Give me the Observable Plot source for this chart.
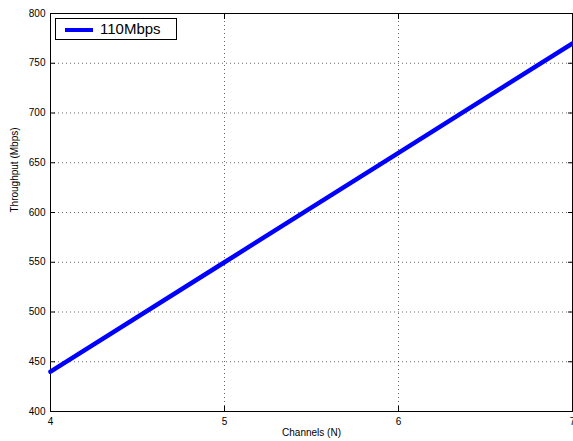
<!DOCTYPE html>
<html><head><meta charset="utf-8">
<script src="https://cdn.jsdelivr.net/npm/d3@7"></script>
<script src="https://cdn.jsdelivr.net/npm/@observablehq/plot@0.6"></script>
<style>
body{margin:0;background:#fff;font-family:"Liberation Sans",Arial,sans-serif;}
#wrap{position:relative;width:573px;height:441px;}
#legend{position:absolute;left:55px;top:18px;width:122px;height:22px;border:1px solid #000;background:#fff;box-sizing:border-box;font-size:15px;}
#legend .sw{position:absolute;left:9px;top:9px;width:28px;height:4px;background:#0000ff;}
#legend .tx{position:absolute;left:44px;top:1px;}
</style></head><body>
<div id="wrap"><div id="legend"><div class="sw"></div><div class="tx">110Mbps</div></div></div>
<script>
const channels = [4, 5, 6, 7];
const throughput = [440, 550, 660, 770];
const seriesName = "110Mbps";
const xTicks = [4, 5, 6, 7];
const yTicks = [400, 450, 500, 550, 600, 650, 700, 750, 800];
const data = channels.map((c, i) => ({c, t: throughput[i]}));
const blank = () => "";
const chart = Plot.plot({
  width: 573, height: 441,
  marginLeft: 50, marginRight: 1, marginTop: 13, marginBottom: 30,
  style: {fontFamily: '"Liberation Sans",Arial,sans-serif', fontSize: "10px", color: "#000", background: "#fff"},
  x: {domain: [4, 7]},
  y: {domain: [400, 800]},
  marks: [
    Plot.gridX(xTicks, {stroke: "#000", strokeOpacity: 0.6, strokeDasharray: "1,3"}),
    Plot.gridY(yTicks, {stroke: "#000", strokeOpacity: 0.6, strokeDasharray: "1,3"}),
    Plot.axisY(yTicks, {anchor: "left", tickSize: -5, tickPadding: 10, tickFormat: "d", label: null}),
    Plot.axisY(yTicks, {anchor: "right", tickSize: -5, tickFormat: blank, label: null}),
    Plot.axisX(xTicks, {anchor: "bottom", tickSize: -5, tickPadding: 11, tickFormat: "d", label: null}),
    Plot.axisX(xTicks, {anchor: "top", tickSize: -5, tickFormat: blank, label: null}),
    Plot.frame({stroke: "#000", strokeWidth: 1}),
    Plot.line(data, {x: "c", y: "t", stroke: "#0000ff", strokeWidth: 4.5}),
    Plot.text(["Channels (N)"], {frameAnchor: "bottom", dy: 24, fontSize: 10}),
    Plot.text(["Throughput (Mbps)"], {frameAnchor: "left", dx: -36, rotate: -90, fontSize: 10})
  ]
});
document.getElementById("wrap").prepend(chart);
chart.style.position = "absolute"; chart.style.left = "0"; chart.style.top = "0";
</script>
</body></html>
